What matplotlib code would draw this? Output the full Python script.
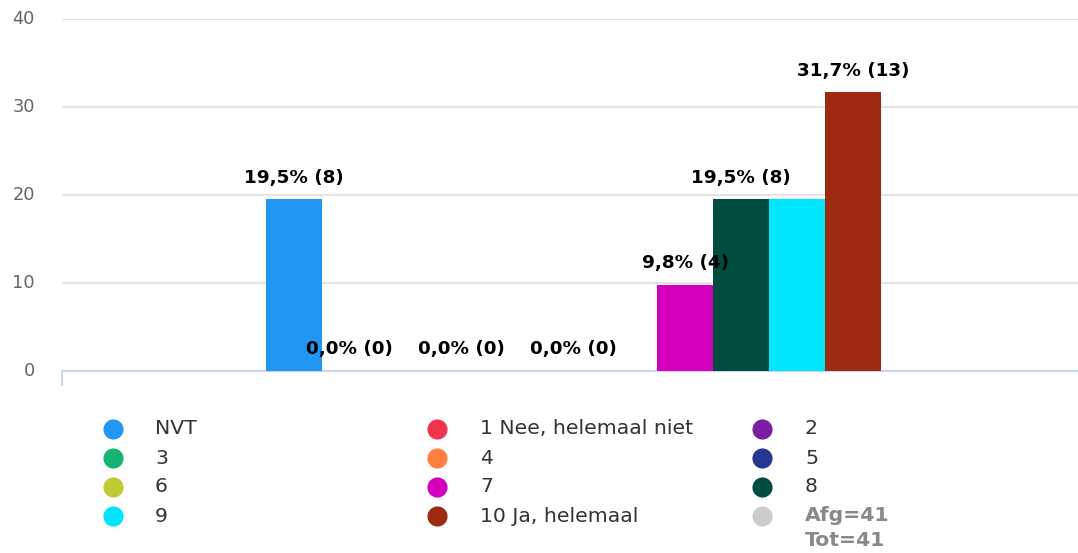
import matplotlib
matplotlib.use("Agg")
import matplotlib.pyplot as plt

# ---- data ----
series_names = ["NVT", "1 Nee, helemaal niet", "2", "3", "4", "5", "6", "7", "8", "9", "10 Ja, helemaal"]
percentages = [19.5, 0.0, 0.0, 0.0, 0.0, 0.0, 0.0, 9.8, 19.5, 19.5, 31.7]
counts = [8, 0, 0, 0, 0, 0, 0, 4, 8, 8, 13]
colors = ["#2196F3", "#F0364E", "#7B1FA2", "#14B473", "#FF8040", "#283593",
          "#C0CA33", "#D500BF", "#004D40", "#00E5FF", "#9E2A12"]
extra_label = "Afg=41\nTot=41"
extra_color = "#CCCCCC"
y_ticks = [0, 10, 20, 30, 40]

W, H = 1078, 553
plt.rcParams['font.family'] = ['DejaVu Sans']
fig = plt.figure(figsize=(W / 100, H / 100), dpi=100)

# plot area in pixels
px_left, px_right, px_top, px_bottom = 62, 1078, 19, 371
ax = fig.add_axes([px_left / W, 1 - px_bottom / H, (px_right - px_left) / W, (px_bottom - px_top) / H])
ax.set_xlim(-0.5, 0.5)
ax.set_ylim(0, 40)

n = len(series_names)
group_start = 0.2008
slot = (1 - 0.2008 - 0.194) / n
xs = [-0.5 + group_start + slot * (i + 0.5) for i in range(n)]

for i in range(n):
    ax.bar(xs[i], percentages[i], width=slot, color=colors[i], zorder=3, linewidth=0)

# grid
ax.set_yticks(y_ticks)
ax.yaxis.grid(True, color="#e3e3e3", linewidth=1.5, zorder=0)
ax.set_axisbelow(True)
for s in ["top", "right", "left"]:
    ax.spines[s].set_visible(False)
ax.spines["bottom"].set_color("#ccd6eb")
ax.spines["bottom"].set_linewidth(1.5)
ax.tick_params(axis="y", length=0, pad=19.4, labelsize=12.8, labelcolor="#666666")
ax.set_xticks([-0.5])
ax.set_xticklabels([""])
ax.tick_params(axis="x", length=10.8, width=1.5, color="#ccd6eb", direction="out")
for lab in ax.get_yticklabels():
    lab.set_verticalalignment("center")

# data labels with overlap hiding
fig.canvas.draw()
renderer = fig.canvas.get_renderer()
shown = []
for i in range(n):
    txt = f"{percentages[i]:.1f}".replace(".", ",") + f"% ({counts[i]})"
    t = ax.annotate(txt, (xs[i], percentages[i]), xytext=(0, 15.5), textcoords="offset points",
                    ha="center", va="center", fontsize=13.2, fontweight="bold", color="black", zorder=5)
    bb = t.get_window_extent(renderer)
    if any(bb.overlaps(o) for o in shown):
        t.remove()
    else:
        shown.append(bb)

# legend (manual, pixel coordinates)
lax = fig.add_axes([0, 0, 1, 1])
lax.set_xlim(0, W)
lax.set_ylim(H, 0)
lax.axis("off")
col_marker_x = [113, 437, 762]
col_text_x = [155, 480, 805]
row_y = [429, 458, 487, 516]
items = list(zip(series_names, colors)) + [(extra_label, extra_color)]
for k, (name, col) in enumerate(items):
    r, c = divmod(k, 3)
    lax.plot(col_marker_x[c], row_y[r], "o", markersize=14.5, color=col, markeredgewidth=0)
    if name == extra_label:
        lax.text(col_text_x[c], row_y[r] - 10, name, fontsize=14.7, fontweight="bold", color="#888888",
                 va="top", ha="left", linespacing=1.42)
    else:
        lax.text(col_text_x[c], row_y[r], name, fontsize=14.7, color="#333333", va="center", ha="left")

fig.savefig("out.png", dpi=100)
